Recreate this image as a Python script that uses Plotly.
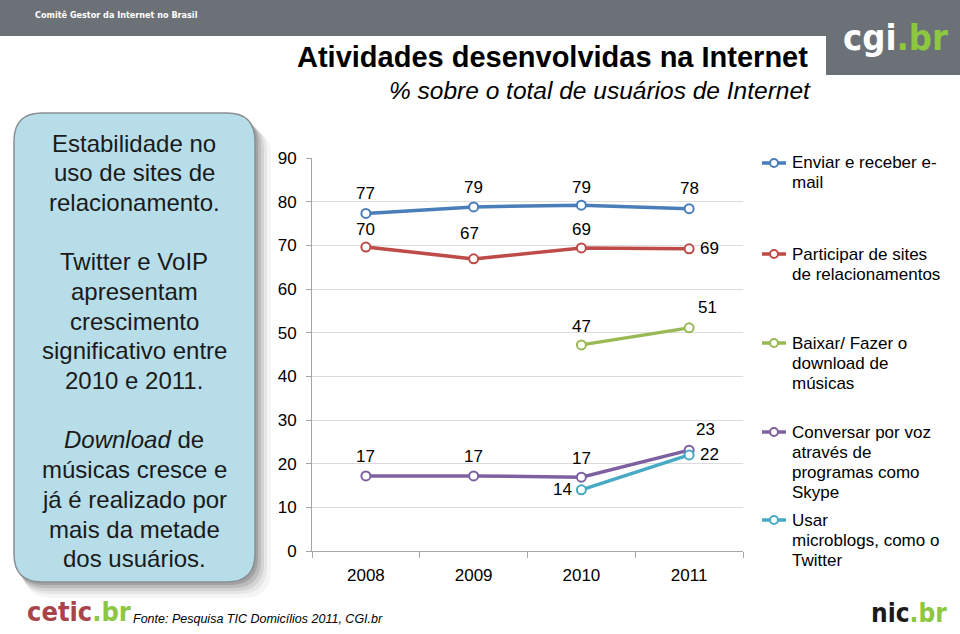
import plotly.graph_objects as go

# ---------------- data ----------------
years = ["2008", "2009", "2010", "2011"]
email = [77.3, 78.8, 79.2, 78.4]
social = [69.6, 66.9, 69.4, 69.2]
music = [None, None, 47.2, 51.1]
voip = [17.2, 17.2, 16.9, 23.1]
microblog = [None, None, 14.0, 22.0]
labels_email = [77, 79, 79, 78]
labels_social = [70, 67, 69, 69]
labels_music = [None, None, 47, 51]
labels_voip = [17, 17, 17, 23]
labels_microblog = [None, None, 14, 22]

series_names = [
    ["Enviar e receber e-", "mail"],
    ["Participar de sites", "de relacionamentos"],
    ["Baixar/ Fazer o", "download de", "músicas"],
    ["Conversar por voz", "através de", "programas como", "Skype"],
    ["Usar", "microblogs, como o", "Twitter"],
]
y_ticks = [0, 10, 20, 30, 40, 50, 60, 70, 80, 90]

title = "Atividades desenvolvidas na Internet"
subtitle = "% sobre o total de usuários de Internet"
box_lines = [
    "Estabilidade no", "uso de sites de", "relacionamento.", "",
    "Twitter e VoIP", "apresentam", "crescimento", "significativo entre", "2010 e 2011.", "",
    "<i>Download</i> de", "músicas cresce e", "já é realizado por", "mais da metade", "dos usuários.",
]
source = "Fonte: Pesquisa TIC Domicílios 2011, CGI.br"

# ---------------- styling ----------------
colors = ["#4a7ebb", "#be4b48", "#98b954", "#7d60a0", "#46aac5"]
FONT = "Liberation Sans, Arial, sans-serif"
NARROW = "DejaVu Sans Condensed, DejaVu Sans, sans-serif"
COND = "font-stretch:condensed"

W, H = 960, 634
PL, PR, PT, PB = 312, 743, 158, 551  # plot area pixels


def px(X):
    return (X - PL) / (PR - PL)


def py(Y):
    return (PB - Y) / (PB - PT)


fig = go.Figure()

all_series = [email, social, music, voip, microblog]
all_labels = [labels_email, labels_social, labels_music, labels_voip, labels_microblog]

for vals, col, nm in zip(all_series, colors, series_names):
    fig.add_trace(go.Scatter(
        x=years, y=vals, mode="lines+markers", name=" ".join(nm),
        line=dict(color=col, width=3.5),
        marker=dict(symbol="circle", size=9, color="white", line=dict(color=col, width=2)),
        connectgaps=False, showlegend=False, hoverinfo="skip",
    ))

# label offsets (pixels) per series per point
offsets = [
    [(0, 20), (0, 19), (0, 18), (0, 20)],
    [(0, 18), (-4, 25), (0, 18), (20, 0)],
    [None, None, (0, 18), (18, 20)],
    [(0, 19), (0, 19), (0, 19), (16, 21)],
    [None, None, (-19, 0), (20, 0)],
]
annotations = []
for vals, labs, offs in zip(all_series, all_labels, offsets):
    for i, (v, lb) in enumerate(zip(vals, labs)):
        if v is None or lb is None:
            continue
        dx, dy = offs[i]
        annotations.append(dict(
            x=i, y=v, xref="x", yref="y", text=str(lb), showarrow=False,
            xshift=dx, yshift=dy, font=dict(family=FONT, size=17, color="#000000"),
            xanchor="center", yanchor="middle",
        ))

# title
annotations.append(dict(x=px(552), y=py(57), xref="paper", yref="paper", text="<b>" + title + "</b>",
                        showarrow=False, font=dict(family=FONT, size=29, color="#000000"),
                        xanchor="center", yanchor="middle"))
annotations.append(dict(x=px(813), y=py(90), xref="paper", yref="paper", text="<i>" + subtitle + "</i>",
                        showarrow=False, font=dict(family=FONT, size=24.5, color="#000000"),
                        xanchor="right", yanchor="middle"))

# left box text
line_y = 143
for ln in box_lines:
    if ln:
        annotations.append(dict(x=px(134), y=py(line_y), xref="paper", yref="paper", text=ln,
                                showarrow=False, font=dict(family=FONT, size=24, color="#1a1a1a"),
                                xanchor="center", yanchor="middle"))
    line_y += 29.7

# legend
leg_tops = [163, 254, 343, 432, 520]
shapes = []
for nm, col, top in zip(series_names, colors, leg_tops):
    shapes.append(dict(type="line", xref="paper", yref="paper", x0=px(762), x1=px(786),
                       y0=py(top), y1=py(top), line=dict(color=col, width=3.5)))
    shapes.append(dict(type="circle", xref="paper", yref="paper", x0=px(770), x1=px(778),
                       y0=py(top - 4), y1=py(top + 4), fillcolor="white", line=dict(color=col, width=2)))
    for k, ln in enumerate(nm):
        annotations.append(dict(x=px(790), y=py(top + 20 * k), xref="paper", yref="paper", text=ln,
                                showarrow=False, font=dict(family=FONT, size=17, color="#000000"),
                                xanchor="left", yanchor="middle"))

# header texts and logos
annotations.append(dict(x=px(33), y=py(15), xref="paper", yref="paper",
                        text=f"<b><span style='{COND}'>Comitê Gestor da Internet no Brasil</span></b>",
                        showarrow=False, font=dict(family=NARROW, size=9, color="white"),
                        xanchor="left", yanchor="middle"))
annotations.append(dict(x=px(895), y=py(38), xref="paper", yref="paper",
                        text=f"<b><span style='{COND}'>cgi</span><span style='color:#8dc63f;{COND}'>.br</span></b>",
                        showarrow=False, font=dict(family=NARROW, size=36, color="white"),
                        xanchor="center", yanchor="middle"))
annotations.append(dict(x=px(79), y=py(611), xref="paper", yref="paper",
                        text=f"<b><span style='{COND}'>cetic</span><span style='color:#8dc63f;{COND}'>.br</span></b>",
                        showarrow=False, font=dict(family=NARROW, size=27, color="#a94448"),
                        xanchor="center", yanchor="middle"))
annotations.append(dict(x=px(909), y=py(613), xref="paper", yref="paper",
                        text=f"<b><span style='{COND}'>nic</span><span style='color:#8dc63f;{COND}'>.br</span></b>",
                        showarrow=False, font=dict(family=NARROW, size=26, color="#1a1a1a"),
                        xanchor="center", yanchor="middle"))
annotations.append(dict(x=px(131), y=py(619), xref="paper", yref="paper", text="<i>" + source + "</i>",
                        showarrow=False, font=dict(family=FONT, size=12.5, color="#000000"),
                        xanchor="left", yanchor="middle"))


def rrect(x0, y0, x1, y1, r):
    def P(X, Y):
        return f"{px(X):.5f},{py(Y):.5f}"
    return (f"M {P(x0 + r, y0)} L {P(x1 - r, y0)} Q {P(x1, y0)} {P(x1, y0 + r)} "
            f"L {P(x1, y1 - r)} Q {P(x1, y1)} {P(x1 - r, y1)} L {P(x0 + r, y1)} "
            f"Q {P(x0, y1)} {P(x0, y1 - r)} L {P(x0, y0 + r)} Q {P(x0, y0)} {P(x0 + r, y0)} Z")


bg_shapes = []
# header band
bg_shapes.append(dict(type="rect", xref="paper", yref="paper", x0=px(0), x1=px(960), y0=py(0), y1=py(36),
                      fillcolor="#6b7177", line=dict(width=0), layer="below"))
bg_shapes.append(dict(type="rect", xref="paper", yref="paper", x0=px(826), x1=px(960), y0=py(0), y1=py(75),
                      fillcolor="#6b7177", line=dict(width=0), layer="below"))
bg_shapes.append(dict(type="path", xref="paper", yref="paper", path=rrect(0, 36, 826, 120, 14),
                      fillcolor="white", line=dict(width=0), layer="below"))
# box shadow
for k, op in [(16, 0.05), (12, 0.08), (9, 0.11), (6, 0.15), (3, 0.2)]:
    bg_shapes.append(dict(type="path", xref="paper", yref="paper",
                          path=rrect(14 + k * 0.6, 113 + k, 255 + k, 582 + k, 28),
                          fillcolor=f"rgba(60,60,60,{op})", line=dict(width=0), layer="below"))
bg_shapes.append(dict(type="path", xref="paper", yref="paper", path=rrect(14, 113, 255, 582, 28),
                      fillcolor="#b7dde8", line=dict(color="#8a8f94", width=1.5), layer="below"))

fig.update_layout(
    width=W, height=H,
    margin=dict(l=PL, r=W - PR, t=PT, b=H - PB, pad=0),
    paper_bgcolor="white", plot_bgcolor="rgba(0,0,0,0)",
    shapes=bg_shapes + shapes,
    annotations=annotations,
    font=dict(family=FONT, size=16, color="#000000"),
    xaxis=dict(type="category", categoryorder="array", categoryarray=years, range=[-0.5, 3.5],
               showgrid=False, zeroline=False, showline=True, linecolor="#a6a6a6", linewidth=1,
               ticks="outside", tickson="boundaries", ticklen=6, tickcolor="#a6a6a6",
               tickfont=dict(family=FONT, size=17, color="#000000"), ticklabelstandoff=9, fixedrange=True),
    yaxis=dict(range=[0, 90], tickvals=y_ticks, showgrid=True, gridcolor="#dcdcdc", gridwidth=1,
               zeroline=False, showline=True, linecolor="#a6a6a6", linewidth=1,
               ticks="outside", ticklen=5, tickcolor="#a6a6a6",
               tickfont=dict(family=FONT, size=17, color="#000000"), ticklabelstandoff=6, fixedrange=True),
    showlegend=False,
)

fig.write_html("out.html")
